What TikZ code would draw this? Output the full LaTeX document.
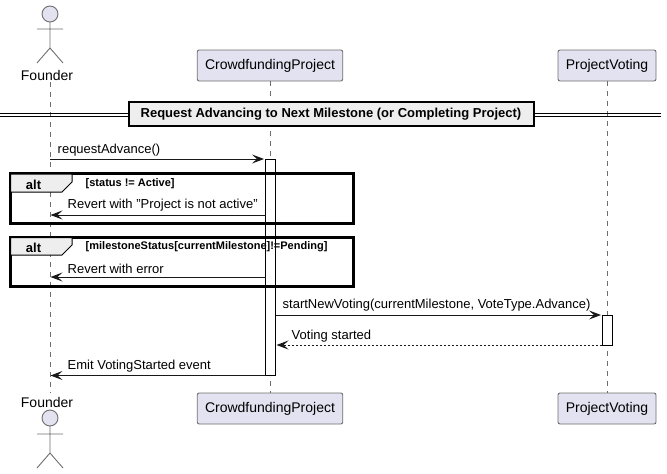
\documentclass[tikz,border=0pt]{standalone}
\usepackage{fontspec}
\setmainfont{Liberation Sans}
\usetikzlibrary{arrows.meta}
\definecolor{partfill}{HTML}{E2E2F0}
\definecolor{partline}{HTML}{6E6E6E}
\definecolor{tabfill}{HTML}{EEEEEE}
\definecolor{ink}{HTML}{181818}
\tikzset{
  x=1pt,y=-1pt,
  part/.style={draw=partline,fill=partfill,rounded corners=2pt,line width=.9pt,minimum height=31pt,inner sep=0pt,font=\fontsize{14}{16}\selectfont},
  actorlabel/.style={inner sep=0pt,font=\fontsize{14}{16}\selectfont},
  actorline/.style={draw=partline,line width=.9pt},
  actorhead/.style={draw=partline,fill=partfill,line width=.9pt},
  life/.style={draw=partline,line width=.7pt,dash pattern=on 5pt off 5pt},
  actbox/.style={draw=black,fill=white,line width=1pt},
  msgtext/.style={anchor=west,inner sep=0pt,font=\fontsize{13}{15}\selectfont},
  msg/.style={draw=ink,line width=1pt,-{Stealth[length=12pt,width=9pt,inset=5pt,color=ink]}},
  reply/.style={msg,dash pattern=on 2pt off 2pt},
  frameline/.style={draw=black,line width=2pt},
  alttab/.style={draw=black,fill=tabfill,line width=1pt},
  alttext/.style={inner sep=0pt,font=\bfseries\fontsize{13}{15}\selectfont},
  guardtext/.style={anchor=west,inner sep=0pt,font=\bfseries\fontsize{11}{13}\selectfont},
  divbox/.style={draw=black,fill=tabfill,line width=2pt,inner sep=0pt,minimum width=405pt,minimum height=24pt,font=\bfseries\fontsize{13}{15}\selectfont},
  divline/.style={draw=black,line width=1pt},
}
\begin{document}
\begin{tikzpicture}
\useasboundingbox (0,0) rectangle (667,474);
% participants
\node[part,minimum width=145.5pt] (cpt) at (270,65.5) {CrowdfundingProject};
\node[part,minimum width=98pt] (pvt) at (607,65.5) {ProjectVoting};
\node[part,minimum width=145.5pt] (cpb) at (270,408.5) {CrowdfundingProject};
\node[part,minimum width=98pt] (pvb) at (607,408.5) {ProjectVoting};
\node[actorlabel] (ft) at (47,75) {Founder};
\node[actorlabel] (fb) at (47,402) {Founder};
\coordinate (fla) at (50,82);
\coordinate (flb) at (50,393);
% lifelines
\draw[life] (fla) -- (flb);
\draw[life] (cpt.south) -- (cpb.north);
\draw[life] (pvt.south) -- (pvb.north);
% actors
\draw[actorhead] (50,14) circle (8);
\draw[actorline] (50,22) -- (50,48) (37,29) -- (63,29) (37,63) -- (50,48) -- (63,63);
\draw[actorhead] (50,418) circle (8);
\draw[actorline] (50,426) -- (50,453) (37,434) -- (63,434) (37,468) -- (50,453) -- (63,468);
% divider
\coordinate (dl) at (0,0);
\draw[divline] (0,113.5) -- (661,113.5) (0,116.5) -- (661,116.5);
\node[divbox] (div) at (331,114) {Request Advancing to Next Milestone (or Completing Project)};
% activations
\node[actbox,minimum width=10pt,minimum height=216.5pt,inner sep=0pt] (a1) at (270.5,267.25) {};
\node[actbox,minimum width=10.5pt,minimum height=30pt,inner sep=0pt] (a2) at (607.25,330) {};
% alt frames
\node[frameline,minimum width=342pt,minimum height=49pt,inner sep=0pt] (f1) at (181.5,198.5) {};
\draw[alttab] (10.5,174) -- (72,174) -- (72,182) -- (62,192) -- (10.5,192) -- cycle;
\draw[frameline] (f1.south west) rectangle (f1.north east);
\node[alttext] (alt1) at (33.5,184.5) {alt};
\node[guardtext] (g1) at (85.5,184) {[status != Active]};
\node[frameline,minimum width=342pt,minimum height=48pt,inner sep=0pt] (f2) at (181.5,261.5) {};
\draw[alttab] (10.5,237.5) -- (72,237.5) -- (72,245) -- (62,255) -- (10.5,255) -- cycle;
\draw[frameline] (f2.south west) rectangle (f2.north east);
\node[alttext] (alt2) at (33.5,247.5) {alt};
\node[guardtext] (g2) at (85.5,246.5) {[milestoneStatus[currentMilestone]!=Pending]};
% message ends
\coordinate (m1a) at (50,159); \coordinate (m1b) at (264,159);
\coordinate (m2a) at (265.5,215); \coordinate (m2b) at (50.5,215);
\coordinate (m3a) at (265.5,277); \coordinate (m3b) at (50.5,277);
\coordinate (m4a) at (275.5,315); \coordinate (m4b) at (601,315);
\coordinate (m5a) at (602,345); \coordinate (m5b) at (276.5,345);
\coordinate (m6a) at (265.5,375.5); \coordinate (m6b) at (50.5,375.5);
\draw[msg] (m1a) -- (m1b);
\draw[msg] (m2a) -- (m2b);
\draw[msg] (m3a) -- (m3b);
\draw[msg] (m4a) -- (m4b);
\draw[reply] (m5a) -- (m5b);
\draw[msg] (m6a) -- (m6b);
% labels
\node[msgtext] (t1) at (57.5,150) {requestAdvance()};
\node[msgtext] (t2) at (67.5,205.5) {Revert with "Project is not active"};
\node[msgtext] (t3) at (67.5,268.5) {Revert with error};
\node[msgtext] (t4) at (282.5,305.5) {startNewVoting(currentMilestone, VoteType.Advance)};
\node[msgtext] (t5) at (291.5,336.5) {Voting started};
\node[msgtext] (t6) at (67.5,366.5) {Emit VotingStarted event};
\end{tikzpicture}
\end{document}
